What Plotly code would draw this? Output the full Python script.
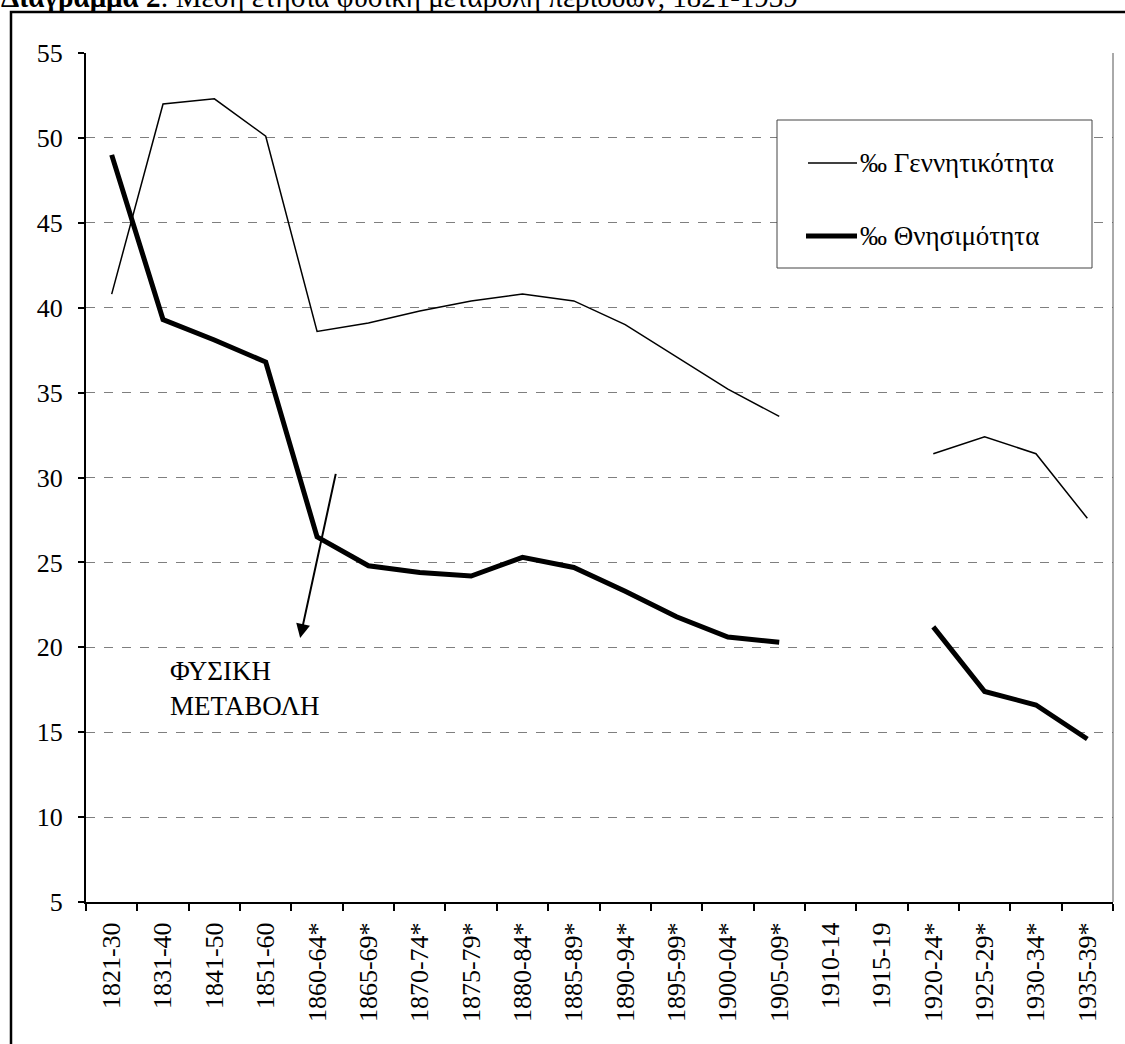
import plotly.graph_objects as go

periods = ["1821-30", "1831-40", "1841-50", "1851-60", "1860-64*", "1865-69*",
           "1870-74*", "1875-79*", "1880-84*", "1885-89*", "1890-94*", "1895-99*",
           "1900-04*", "1905-09*", "1910-14", "1915-19", "1920-24*", "1925-29*",
           "1930-34*", "1935-39*"]
birth_rate = [40.8, 52.0, 52.3, 50.1, 38.6, 39.1, 39.8, 40.4, 40.8, 40.4, 39.0, 37.1,
              35.2, 33.6, None, None, 31.4, 32.4, 31.4, 27.6]
death_rate = [49.0, 39.3, 38.1, 36.8, 26.5, 24.8, 24.4, 24.2, 25.3, 24.7, 23.3, 21.8,
              20.6, 20.3, None, None, 21.2, 17.4, 16.6, 14.6]
birth_name = "‰ Γεννητικότητα"
death_name = "‰ Θνησιμότητα"
title_text = "<b>Διάγραμμα 2</b>: Μέση ετήσια φυσική μεταβολή περιόδων, 1821-1939"
note_text = "ΦΥΣΙΚΗ<br>ΜΕΤΑΒΟΛΗ"

FONT = "Liberation Serif"

fig = go.Figure()
fig.add_trace(go.Scatter(x=periods, y=birth_rate, mode="lines", name=birth_name,
                         line=dict(color="black", width=1.5), connectgaps=False))
fig.add_trace(go.Scatter(x=periods, y=death_rate, mode="lines", name=death_name,
                         line=dict(color="black", width=5), connectgaps=False))

W, H = 1125, 1044
ml, mr, mt, mb = 86, 12, 53, 142
pw, ph = W - ml - mr, H - mt - mb

def px_x(p):
    return (p - ml) / pw

def px_y(p):
    return (H - mb - p) / ph

fig.update_layout(
    width=W, height=H,
    margin=dict(l=ml, r=mr, t=mt, b=mb),
    paper_bgcolor="white", plot_bgcolor="white",
    showlegend=False,
    font=dict(family=FONT, size=26, color="black"),
)
fig.update_xaxes(
    type="category", categoryorder="array", categoryarray=periods,
    range=[-0.5, len(periods) - 0.5],
    tickangle=-90, tickson="boundaries", ticks="outside", ticklen=7,
    tickcolor="black", tickwidth=1.5,
    showline=True, linecolor="black", linewidth=2, showgrid=False,
    tickfont=dict(family=FONT, size=26, color="black"),
    ticklabelstandoff=8,
)
fig.update_yaxes(
    range=[5, 55], dtick=5, tick0=5,
    ticks="outside", ticklen=6, tickcolor="black", tickwidth=1.5,
    showline=True, linecolor="black", linewidth=2,
    showgrid=True, gridcolor="#7f7f7f", gridwidth=1, griddash="dash",
    zeroline=False,
    tickfont=dict(family=FONT, size=26, color="black"),
    ticklabelstandoff=10,
)

# right border of plot area
fig.add_shape(type="line", xref="paper", yref="paper", x0=1, x1=1, y0=0, y1=1,
              line=dict(color="#555555", width=1))
# outer frame
fig.add_shape(type="rect", xref="paper", yref="paper",
              x0=px_x(11), x1=px_x(1140), y0=px_y(1100), y1=px_y(12),
              line=dict(color="black", width=2.5), layer="below")

# manual legend
fig.add_shape(type="rect", xref="paper", yref="paper",
              x0=px_x(777), x1=px_x(1092), y0=px_y(268), y1=px_y(120),
              line=dict(color="#444444", width=1), fillcolor="white", layer="above")
fig.add_shape(type="line", xref="paper", yref="paper",
              x0=px_x(808), x1=px_x(857), y0=px_y(163), y1=px_y(163),
              line=dict(color="black", width=1.5))
fig.add_shape(type="line", xref="paper", yref="paper",
              x0=px_x(806), x1=px_x(857), y0=px_y(236), y1=px_y(236),
              line=dict(color="black", width=5))
fig.add_annotation(xref="paper", yref="paper", x=px_x(858), y=px_y(163),
                   xanchor="left", yanchor="middle", text=birth_name, showarrow=False,
                   font=dict(family=FONT, size=27, color="black"))
fig.add_annotation(xref="paper", yref="paper", x=px_x(858), y=px_y(236),
                   xanchor="left", yanchor="middle", text=death_name, showarrow=False,
                   font=dict(family=FONT, size=27, color="black"))

# arrow and note
fig.add_annotation(x=3.67, y=20.55, ax=4.37, ay=30.3, axref="x", ayref="y",
                   xref="x", yref="y", text="", showarrow=True,
                   arrowhead=2, arrowsize=1.4, arrowwidth=2, arrowcolor="black")
fig.add_annotation(x=1.1, y=19.6, xref="x", yref="y", xanchor="left", yanchor="top",
                   text=note_text, showarrow=False, align="left",
                   font=dict(family=FONT, size=27, color="black"))

# title (cropped at top of page, as in the reference)
fig.add_annotation(xref="paper", yref="paper", x=px_x(0), y=px_y(14),
                   xanchor="left", yanchor="bottom", text=title_text, showarrow=False,
                   font=dict(family=FONT, size=29, color="black"), borderpad=0)

fig.write_html("out.html", config={"displayModeBar": False},
               post_script="document.body.style.margin='0';document.body.style.padding='0';")
